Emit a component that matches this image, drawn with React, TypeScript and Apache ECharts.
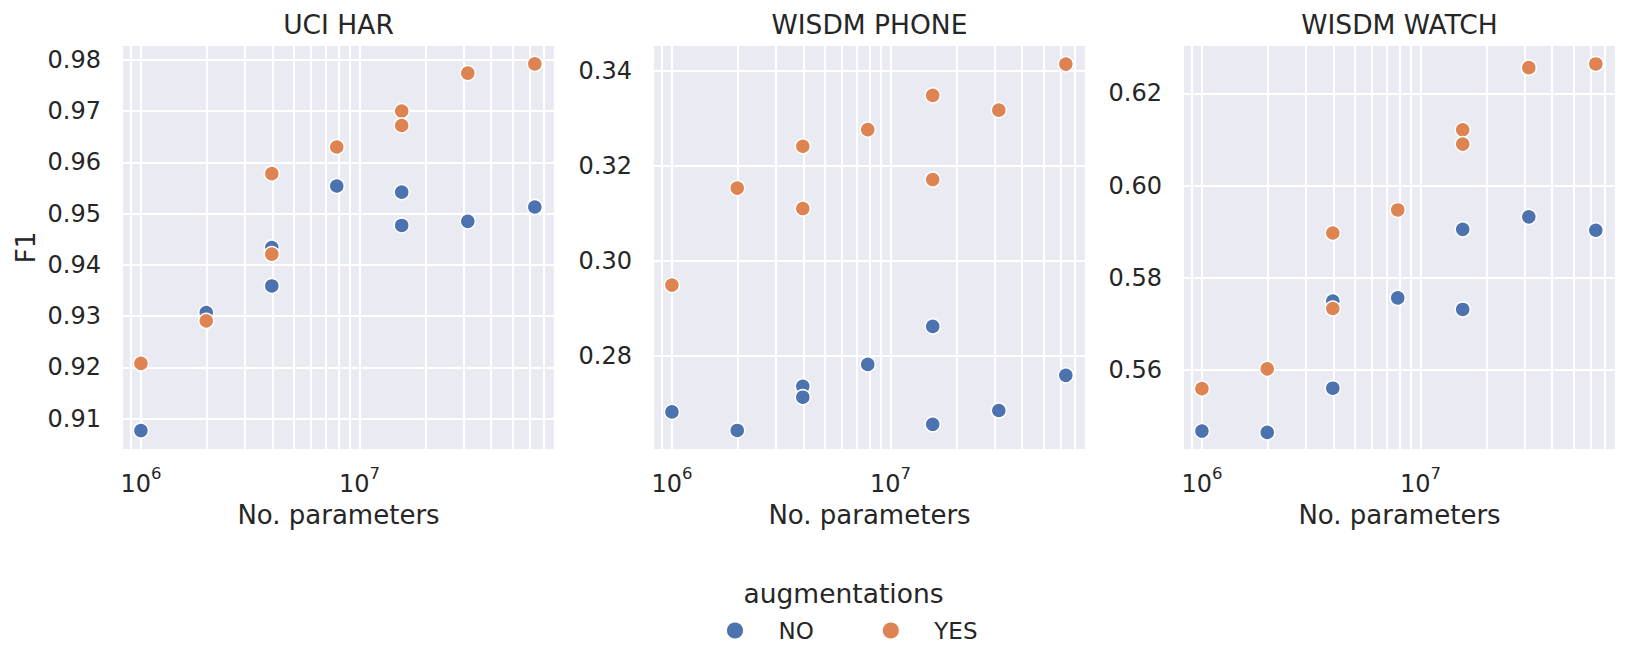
import React, { useEffect, useRef } from "react";
import * as echarts from "echarts";

// ---------------- data ----------------
const PANEL_TITLES = ["UCI HAR", "WISDM PHONE", "WISDM WATCH"];
const HUE_LABELS = ["NO", "YES"];
const HUE_TITLE = "augmentations";

// number of parameters of each run (same runs in every panel)
const PARAMS = [1.0e6, 1.99e6, 3.97e6, 3.97e6, 7.87e6, 15.6e6, 15.6e6, 31.3e6, 63.4e6];

const UCI_NO = [0.9077, 0.9307, 0.9434, 0.9359, 0.9554, 0.9542, 0.9477, 0.9485, 0.9513];
const UCI_YES = [0.9208, 0.9291, 0.9578, 0.9421, 0.963, 0.97, 0.9672, 0.9774, 0.9792];
const PHONE_NO = [0.2682, 0.2643, 0.2736, 0.2713, 0.2782, 0.2862, 0.2656, 0.2685, 0.2759];
const PHONE_YES = [0.2949, 0.3153, 0.3241, 0.311, 0.3276, 0.3348, 0.3171, 0.3317, 0.3414];
const WATCH_NO = [0.5467, 0.5464, 0.5749, 0.556, 0.5756, 0.5905, 0.5731, 0.5932, 0.5903];
const WATCH_YES = [0.5559, 0.5602, 0.5897, 0.5733, 0.5947, 0.6121, 0.609, 0.6256, 0.6264];

const Y_TICKS_UCI = [0.91, 0.92, 0.93, 0.94, 0.95, 0.96, 0.97, 0.98];
const Y_TICKS_PHONE = [0.28, 0.3, 0.32, 0.34];
const Y_TICKS_WATCH = [0.56, 0.58, 0.6, 0.62];

const Y_RANGE_UCI = [0.9041, 0.9827];
const Y_RANGE_PHONE = [0.2604, 0.3452];
const Y_RANGE_WATCH = [0.5428, 0.6303];

const X_MAJOR_TICKS = [1e6, 1e7];
const X_MINOR_TICKS = [9e5, 2e6, 3e6, 4e6, 5e6, 6e6, 7e6, 8e6, 9e6, 2e7, 3e7, 4e7, 5e7, 6e7, 7e7];
const X_RANGE = [8.28e5, 7.76e7];

// ---------------- style ----------------
const BLUE = "#4C72B0";
const ORANGE = "#DD8452";
const TEXT = "#262626";
const BG = "#EAEAF2";
const FONT = "DejaVu Sans";

const GRID_LEFTS = [123, 654, 1184];
const GRID_TOP = 46;
const GRID_W = 431;
const GRID_H = 403;

const lg = (v: number) => Math.log10(v);

function buildOption() {
  const panels = [
    { no: UCI_NO, yes: UCI_YES, ticks: Y_TICKS_UCI, range: Y_RANGE_UCI },
    { no: PHONE_NO, yes: PHONE_YES, ticks: Y_TICKS_PHONE, range: Y_RANGE_PHONE },
    { no: WATCH_NO, yes: WATCH_YES, ticks: Y_TICKS_WATCH, range: Y_RANGE_WATCH },
  ];

  const grid = GRID_LEFTS.map((left) => ({
    left,
    top: GRID_TOP,
    width: GRID_W,
    height: GRID_H,
    show: true,
    backgroundColor: BG,
    borderWidth: 0,
    containLabel: false,
  }));

  const xTickVals = [...X_MAJOR_TICKS, ...X_MINOR_TICKS].map(lg);

  const xAxis = panels.map((_, i) => ({
    type: "value",
    gridIndex: i,
    min: lg(X_RANGE[0]),
    max: lg(X_RANGE[1]),
    axisLine: { show: false },
    axisTick: { show: false, customValues: xTickVals },
    axisLabel: {
      customValues: X_MAJOR_TICKS.map(lg),
      margin: 16,
      fontSize: 24,
      color: TEXT,
      fontFamily: FONT,
      formatter: (v: number) => `{b|10}{s|${Math.round(v)}}`,
      rich: {
        b: { fontSize: 24, lineHeight: 31, verticalAlign: "bottom", color: TEXT, fontFamily: FONT },
        s: { fontSize: 16.5, lineHeight: 18, verticalAlign: "top", color: TEXT, fontFamily: FONT },
      },
    },
    splitLine: { show: true, lineStyle: { color: "#ffffff", width: 2 } },
    name: "No. parameters",
    nameLocation: "middle",
    nameGap: 53,
    nameTextStyle: { fontSize: 26, color: TEXT, fontFamily: FONT },
  }));

  const yAxis = panels.map((p, i) => ({
    type: "value",
    gridIndex: i,
    min: p.range[0],
    max: p.range[1],
    axisLine: { show: false },
    axisTick: { show: false, customValues: p.ticks },
    axisLabel: {
      customValues: p.ticks,
      margin: 22,
      fontSize: 24,
      color: TEXT,
      fontFamily: FONT,
      formatter: (v: number) => v.toFixed(2),
    },
    splitLine: { show: true, lineStyle: { color: "#ffffff", width: 2 } },
    ...(i === 0
      ? {
          name: "F1",
          nameLocation: "middle",
          nameGap: 84,
          nameTextStyle: { fontSize: 26, color: TEXT, fontFamily: FONT },
        }
      : {}),
  }));

  const series: any[] = [];
  panels.forEach((p, i) => {
    [p.no, p.yes].forEach((vals, g) => {
      series.push({
        type: "scatter",
        name: HUE_LABELS[g],
        xAxisIndex: i,
        yAxisIndex: i,
        data: PARAMS.map((x, k) => [lg(x), vals[k]]),
        symbol: "circle",
        symbolSize: 15,
        itemStyle: {
          color: g === 0 ? BLUE : ORANGE,
          borderColor: "#ffffff",
          borderWidth: 1.5,
          opacity: 1,
        },
        emphasis: { disabled: true },
        silent: true,
        z: 2 + g,
      });
    });
  });

  const centers = GRID_LEFTS.map((l) => l + GRID_W / 2);
  const graphic: any[] = PANEL_TITLES.map((t, i) => ({
    type: "text",
    x: centers[i],
    y: 24,
    silent: true,
    style: {
      text: t,
      fill: TEXT,
      font: `26.5px "${FONT}"`,
      align: "center",
      verticalAlign: "middle",
      textAlign: "center",
      textVerticalAlign: "middle",
    },
  }));
  graphic.push({
    type: "text",
    x: 843.5,
    y: 593,
    silent: true,
    style: {
      text: HUE_TITLE,
      fill: TEXT,
      font: `26.5px "${FONT}"`,
      align: "center",
      verticalAlign: "middle",
      textAlign: "center",
      textVerticalAlign: "middle",
    },
  });

  return {
    animation: false,
    backgroundColor: "#ffffff",
    textStyle: { fontFamily: FONT, color: TEXT },
    grid,
    xAxis,
    yAxis,
    series,
    legend: {
      data: HUE_LABELS,
      left: 720,
      top: 614,
      orient: "horizontal",
      icon: "circle",
      itemWidth: 77,
      itemHeight: 18,
      itemGap: 67,
      selectedMode: false,
      textStyle: { fontSize: 23, color: TEXT, fontFamily: FONT },
    },
    graphic,
  };
}

export default function App() {
  const ref = useRef<HTMLDivElement>(null);
  useEffect(() => {
    if (!ref.current) return;
    const chart = echarts.init(ref.current, null, { renderer: "svg" });
    chart.setOption(buildOption() as any);
    return () => {
      chart.dispose();
    };
  }, []);
  return (
    <div
      ref={ref}
      style={{
        position: "fixed",
        left: 0,
        top: 0,
        width: 1630,
        height: 667,
        background: "#ffffff",
      }}
    />
  );
}
